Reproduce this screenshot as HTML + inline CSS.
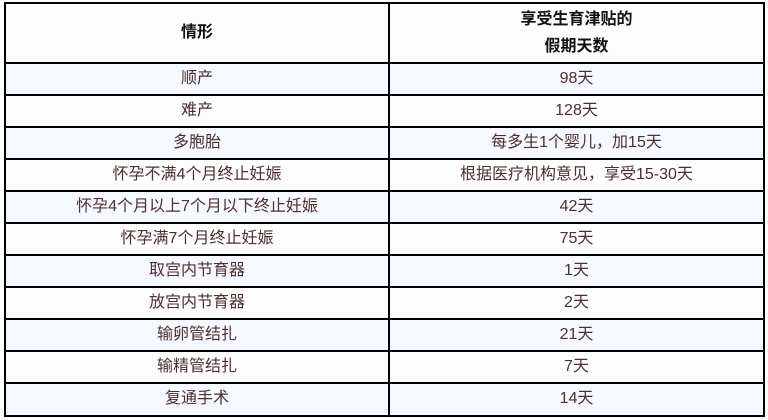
<!DOCTYPE html>
<html><head><meta charset="utf-8">
<style>
html,body{margin:0;padding:0;background:#fff;}
body{width:768px;height:420px;position:relative;overflow:hidden;font-family:"Liberation Sans","Microsoft YaHei","Noto Sans CJK SC",sans-serif;}
.bg{position:absolute;left:4px;width:761px;}
.h{position:absolute;left:4px;width:761px;height:2px;background:#000;}
.v{position:absolute;top:2px;width:2px;height:415px;background:#000;}
.t{position:absolute;font-size:16px;color:#4a3030;text-align:center;line-height:32px;height:32px;white-space:nowrap;}
.l{left:6px;width:382px;}
.r{left:390px;width:373px;}
.hd{position:absolute;font-size:16px;font-weight:bold;color:#111;text-align:center;white-space:nowrap;}
</style></head><body>
<div class="bg" style="top:2px;height:61px;background:#fdfdfd"></div>
<div class="bg" style="top:63px;height:32px;background:#f5f8fe"></div>
<div class="bg" style="top:95px;height:32px;background:#fdfdfd"></div>
<div class="bg" style="top:127px;height:32px;background:#f5f8fe"></div>
<div class="bg" style="top:159px;height:32px;background:#fdfdfd"></div>
<div class="bg" style="top:191px;height:32px;background:#f5f8fe"></div>
<div class="bg" style="top:223px;height:32px;background:#fdfdfd"></div>
<div class="bg" style="top:255px;height:32px;background:#f5f8fe"></div>
<div class="bg" style="top:287px;height:32px;background:#fdfdfd"></div>
<div class="bg" style="top:319px;height:32px;background:#f5f8fe"></div>
<div class="bg" style="top:351px;height:32px;background:#fdfdfd"></div>
<div class="bg" style="top:383px;height:33px;background:#f5f8fe"></div>

<div class="h" style="top:2px"></div>
<div class="h" style="top:62px"></div>
<div class="h" style="top:94px"></div>
<div class="h" style="top:126px"></div>
<div class="h" style="top:158px"></div>
<div class="h" style="top:190px"></div>
<div class="h" style="top:222px"></div>
<div class="h" style="top:254px"></div>
<div class="h" style="top:286px"></div>
<div class="h" style="top:318px"></div>
<div class="h" style="top:350px"></div>
<div class="h" style="top:382px"></div>
<div class="h" style="top:415px"></div>
<div class="v" style="left:4px"></div>
<div class="v" style="left:388px"></div>
<div class="v" style="left:763px"></div>

<div class="hd" style="left:6px;width:382px;top:21px;line-height:24px;">情形</div>
<div class="hd" style="left:390px;width:373px;top:6px;line-height:27px;">享受生育津贴的<br>假期天数</div>

<div class="t l" style="top:63px">顺产</div><div class="t r" style="top:63px">98天</div>
<div class="t l" style="top:95px">难产</div><div class="t r" style="top:95px">128天</div>
<div class="t l" style="top:127px">多胞胎</div><div class="t r" style="top:127px">每多生1个婴儿，加15天</div>
<div class="t l" style="top:159px">怀孕不满4个月终止妊娠</div><div class="t r" style="top:159px">根据医疗机构意见，享受15-30天</div>
<div class="t l" style="top:191px">怀孕4个月以上7个月以下终止妊娠</div><div class="t r" style="top:191px">42天</div>
<div class="t l" style="top:223px">怀孕满7个月终止妊娠</div><div class="t r" style="top:223px">75天</div>
<div class="t l" style="top:255px">取宫内节育器</div><div class="t r" style="top:255px">1天</div>
<div class="t l" style="top:287px">放宫内节育器</div><div class="t r" style="top:287px">2天</div>
<div class="t l" style="top:319px">输卵管结扎</div><div class="t r" style="top:319px">21天</div>
<div class="t l" style="top:351px">输精管结扎</div><div class="t r" style="top:351px">7天</div>
<div class="t l" style="top:383px">复通手术</div><div class="t r" style="top:383px">14天</div>
</body></html>
